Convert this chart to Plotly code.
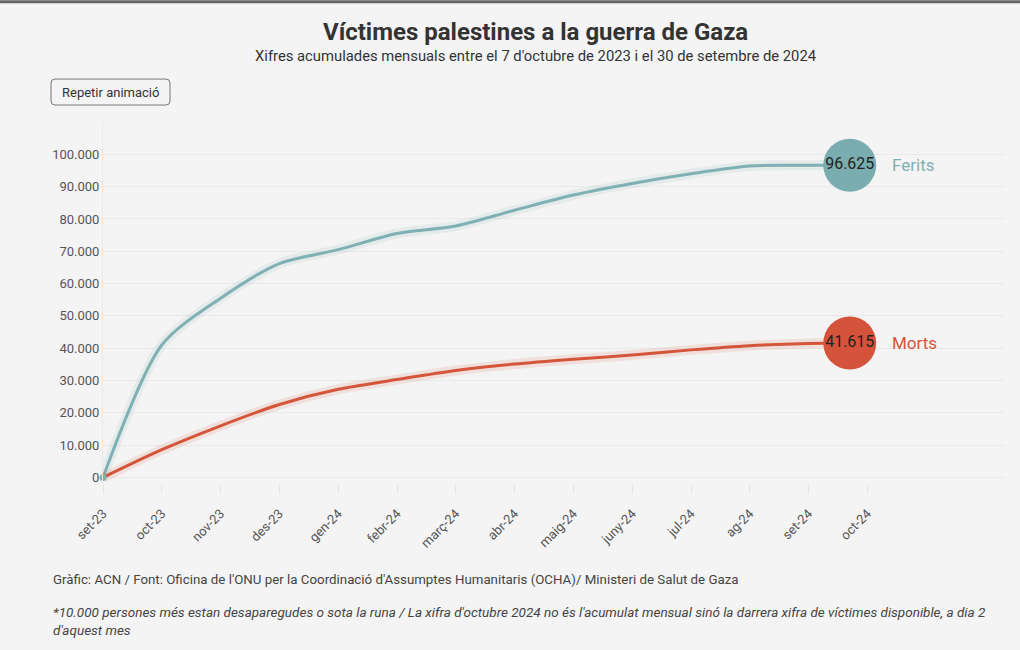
import plotly.graph_objects as go

# ---------------- data ----------------
month_labels = ["set-23", "oct-23", "nov-23", "des-23", "gen-24", "febr-24", "març-24",
                "abr-24", "maig-24", "juny-24", "jul-24", "ag-24", "set-24", "oct-24"]
# position of each observation on the month axis (last one = latest available figure)
period_pos = [0, 1, 2, 3, 4, 5, 6, 7, 8, 9, 10, 11, 12, 12.7]
ferits = [0, 41000, 55500, 66200, 70500, 75500, 77800, 82700, 87400, 91000, 94000, 96400, 96600, 96625]
morts = [0, 8600, 16000, 22600, 27300, 30300, 33100, 35100, 36600, 37900, 39500, 40800, 41500, 41615]
series_names = ["Ferits", "Morts"]

C_FER = "#7fb0b3"
C_FER_B = "#7aadb0"
C_MOR = "#d4553a"
C_MOR_B = "#d4533a"
BG = "#f4f4f4"
FONT = "Roboto"

W, H = 1020, 650
ML, MR, MT, MB = 103, 15, 122, 165.5
PW = W - ML - MR
PH = H - MT - MB


def px(x):
    return (x - ML) / PW


def py(y):
    return (H - MB - y) / PH


def fmt(v):
    return f"{v:,}".replace(",", ".")


fig = go.Figure()

for vals, col, colb in [(ferits, C_FER, C_FER_B), (morts, C_MOR, C_MOR_B)]:
    # soft halo
    fig.add_trace(go.Scatter(x=period_pos, y=vals, mode="lines",
                             line=dict(color=col, width=10, shape="spline", smoothing=0.8),
                             opacity=0.12, hoverinfo="skip", cliponaxis=False))
    fig.add_trace(go.Scatter(x=period_pos, y=vals, mode="lines",
                             line=dict(color=col, width=3, shape="spline", smoothing=0.8),
                             cliponaxis=False))

# start dot
fig.add_trace(go.Scatter(x=[period_pos[0]], y=[ferits[0]], mode="markers",
                         marker=dict(color=C_FER, size=7), cliponaxis=False))

# end bubbles
for vals, colb in [(ferits, C_FER_B), (morts, C_MOR_B)]:
    fig.add_trace(go.Scatter(x=[period_pos[-1]], y=[vals[-1]], mode="markers+text",
                             marker=dict(color=colb, size=53, line=dict(width=0)),
                             text=[fmt(vals[-1])], textposition="middle center",
                             textfont=dict(family=FONT, size=16, color="#222"),
                             cliponaxis=False))

annotations = []
for name, vals, col in [(series_names[0], ferits, C_FER), (series_names[1], morts, C_MOR)]:
    annotations.append(dict(x=period_pos[-1], y=vals[-1], xref="x", yref="y",
                            text=name, showarrow=False, xanchor="left", yanchor="middle",
                            xshift=40, font=dict(family=FONT, size=17, color=col)))

annotations += [
    dict(x=px(535), y=py(32), xref="paper", yref="paper", showarrow=False,
         text="<b>Víctimes palestines a la guerra de Gaza</b>", xanchor="center", yanchor="middle",
         font=dict(family=FONT, size=24, color="#333")),
    dict(x=px(535), y=py(56), xref="paper", yref="paper", showarrow=False,
         text="Xifres acumulades mensuals entre el 7 d'octubre de 2023 i el 30 de setembre de 2024",
         xanchor="center", yanchor="middle", font=dict(family=FONT, size=14.8, color="#333")),
    dict(x=px(110.5), y=py(92), xref="paper", yref="paper", showarrow=False,
         text="Repetir animació", xanchor="center", yanchor="middle",
         font=dict(family=FONT, size=13, color="#333")),
    dict(x=px(51), y=py(580), xref="paper", yref="paper", showarrow=False,
         text="Gràfic: ACN / Font: Oficina de l'ONU per la Coordinació d'Assumptes Humanitaris (OCHA)/ Ministeri de Salut de Gaza",
         xanchor="left", yanchor="middle", font=dict(family=FONT, size=13.3, color="#444")),
    dict(x=px(51), y=py(622), xref="paper", yref="paper", showarrow=False, align="left",
         text="<i>*10.000 persones més estan desaparegudes o sota la runa / La xifra d'octubre 2024 no és l'acumulat mensual sinó la darrera xifra de víctimes disponible, a dia 2<br>d'aquest mes</i>",
         xanchor="left", yanchor="middle", font=dict(family=FONT, size=13.5, color="#444")),
]

# rounded button outline
x0, x1, y0, y1, r = 51, 170, 79, 105, 4
rx = r / PW
ry = r / PH
X0, X1, Y0, Y1 = px(x0), px(x1), py(y1), py(y0)
path = (f"M {X0+rx} {Y0} L {X1-rx} {Y0} Q {X1} {Y0} {X1} {Y0+ry} "
        f"L {X1} {Y1-ry} Q {X1} {Y1} {X1-rx} {Y1} L {X0+rx} {Y1} Q {X0} {Y1} {X0} {Y1-ry} "
        f"L {X0} {Y0+ry} Q {X0} {Y0} {X0+rx} {Y0} Z")

shapes = [
    dict(type="rect", xref="paper", yref="paper", x0=px(0), x1=px(W), y0=py(3), y1=py(0),
         fillcolor="#666", line=dict(width=0), layer="above"),
    dict(type="path", xref="paper", yref="paper", path=path,
         line=dict(color="#777", width=1), fillcolor="rgba(0,0,0,0)"),
]

fig.update_layout(
    width=W, height=H,
    margin=dict(l=ML, r=MR, t=MT, b=MB, pad=0),
    paper_bgcolor=BG, plot_bgcolor=BG,
    font=dict(family=FONT, color="#555"),
    showlegend=False,
    separators=",.",
    annotations=annotations,
    shapes=shapes,
    hovermode=False,
)

fig.update_xaxes(range=[0, PW / 58.8], tickvals=list(range(len(month_labels))),
                 ticktext=month_labels, tickangle=-45, showgrid=False, zeroline=False,
                 ticks="outside", ticklen=8, tickcolor="#e4e4e4", ticklabelstandoff=8,
                 tickfont=dict(family=FONT, size=13, color="#555"),
                 showline=False)
fig.update_yaxes(range=[-2000, 110000], tickvals=list(range(0, 100001, 10000)),
                 tickformat=",d", showgrid=True, gridcolor="#e9e9e9", gridwidth=1,
                 zeroline=False, showline=True, linecolor="#e9e9e9",
                 tickfont=dict(family=FONT, size=13, color="#555"), ticks="")

fig.write_html("out.html", config={"displayModeBar": False},
               post_script="document.body.style.margin='0';")
